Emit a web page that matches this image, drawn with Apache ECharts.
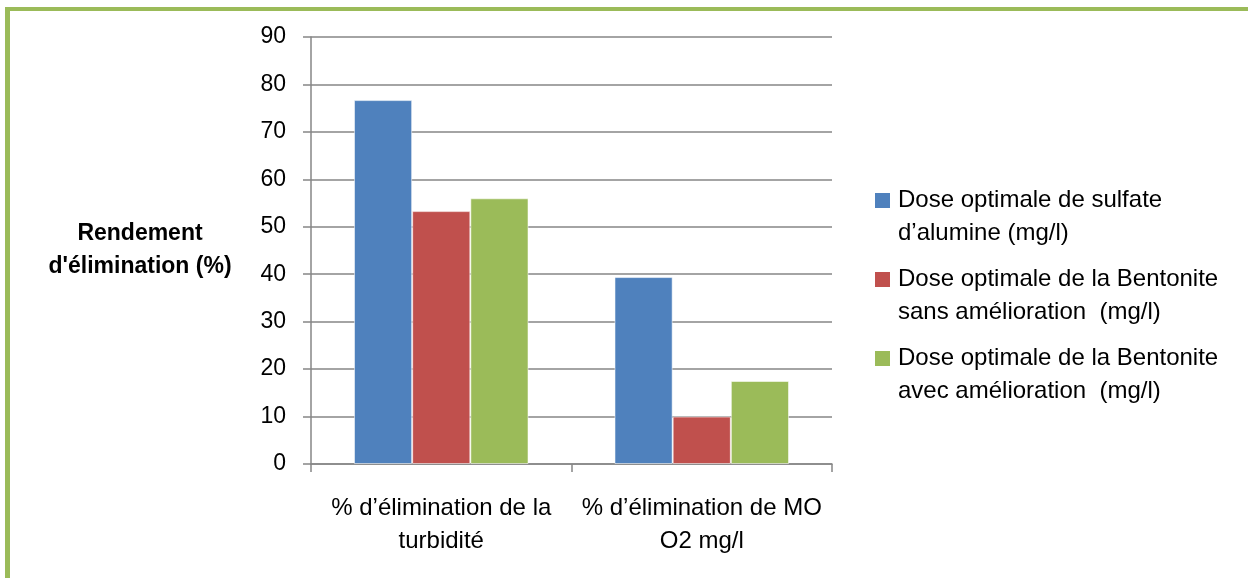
<!DOCTYPE html>
<html>
<head>
<meta charset="utf-8">
<script src="https://cdn.jsdelivr.net/npm/echarts@6/dist/echarts.min.js"></script>
<style>
  html, body { margin: 0; padding: 0; background: #fff; overflow: hidden; }
  #frame { position: absolute; left: 5px; top: 7px; width: 1400px; height: 800px;
           border-left: 5px solid #9BBB59; border-top: 4px solid #9BBB59; box-sizing: border-box; }
  #chart { position: absolute; left: 0; top: 0; width: 1248px; height: 578px; }
</style>
</head>
<body>
<div id="frame"></div>
<div id="chart"></div>
<script>
// Categories (x axis) and series values (removal yield, %)
const categories = ['% d\u2019élimination de la\nturbidité', '% d\u2019élimination de MO\nO2 mg/l'];
const seriesNames = [
  'Dose optimale de sulfate\nd\u2019alumine (mg/l)',
  'Dose optimale de la Bentonite\nsans amélioration  (mg/l)',
  'Dose optimale de la Bentonite\navec amélioration  (mg/l)'
];
const sulfateAlumine = [76.7, 39.4];
const bentoniteSans = [53.3, 10.0];
const bentoniteAvec = [56.0, 17.5];
const yTicks = [0, 10, 20, 30, 40, 50, 60, 70, 80, 90];
const colors = ['#4F81BD', '#C0504D', '#9BBB59'];

const FONT = '"Liberation Sans", Arial, sans-serif';
const values = [sulfateAlumine, bentoniteSans, bentoniteAvec];

// Legend: coloured square on the first line, second line indented under the text
const legendRich = {
  g: { width: 8 },
  g2: { width: 23 }
};
colors.forEach((c, i) => {
  legendRich['k' + i] = { width: 15, height: 15, backgroundColor: c, verticalAlign: 'middle' };
});

const chart = echarts.init(document.getElementById('chart'), null, { renderer: 'canvas' });
chart.setOption({
  animation: false,
  textStyle: { fontFamily: FONT },
  grid: { left: 311, right: 416, top: 37, bottom: 114, containLabel: false },
  legend: {
    orient: 'vertical',
    left: 864,
    top: 179,
    itemWidth: 0,
    itemHeight: 0,
    itemGap: 13,
    icon: 'rect',
    selectedMode: false,
    data: seriesNames,
    formatter: function (name) {
      const i = seriesNames.indexOf(name);
      const lines = name.split('\n');
      return '{k' + i + '|}{g|}' + lines[0] + '\n{g2|}' + lines[1];
    },
    textStyle: {
      fontFamily: FONT, fontSize: 24, lineHeight: 33, color: '#000',
      rich: legendRich
    }
  },
  xAxis: {
    type: 'category',
    data: categories,
    axisLine: { lineStyle: { color: '#868686', width: 1.5 } },
    axisTick: { show: true, length: 8, lineStyle: { color: '#868686', width: 1.5 } },
    axisLabel: { interval: 0, margin: 28, fontSize: 24, lineHeight: 33, color: '#000', fontFamily: FONT }
  },
  yAxis: {
    type: 'value',
    min: yTicks[0],
    max: yTicks[yTicks.length - 1],
    interval: 10,
    name: 'Rendement\nd\'élimination (%)',
    nameLocation: 'middle',
    nameRotate: 0,
    nameGap: 171,
    nameTextStyle: { align: 'center', verticalAlign: 'middle', fontWeight: 'bold', fontSize: 23,
                     lineHeight: 33, color: '#000', fontFamily: FONT, padding: [5, 0, 0, 0] },
    axisLine: { show: true, lineStyle: { color: '#868686', width: 1.5 } },
    axisTick: { show: true, length: 8, lineStyle: { color: '#868686', width: 1.5 } },
    axisLabel: { margin: 25, fontSize: 23, color: '#000', fontFamily: FONT },
    splitLine: { lineStyle: { color: '#868686', width: 1.5 } }
  },
  series: seriesNames.map((n, i) => ({
    name: n,
    type: 'bar',
    data: values[i],
    barGap: '0%',
    barCategoryGap: '33%',
    itemStyle: { color: colors[i], borderColor: 'rgba(255,255,255,0.55)', borderWidth: 1 }
  }))
});
</script>
</body>
</html>
